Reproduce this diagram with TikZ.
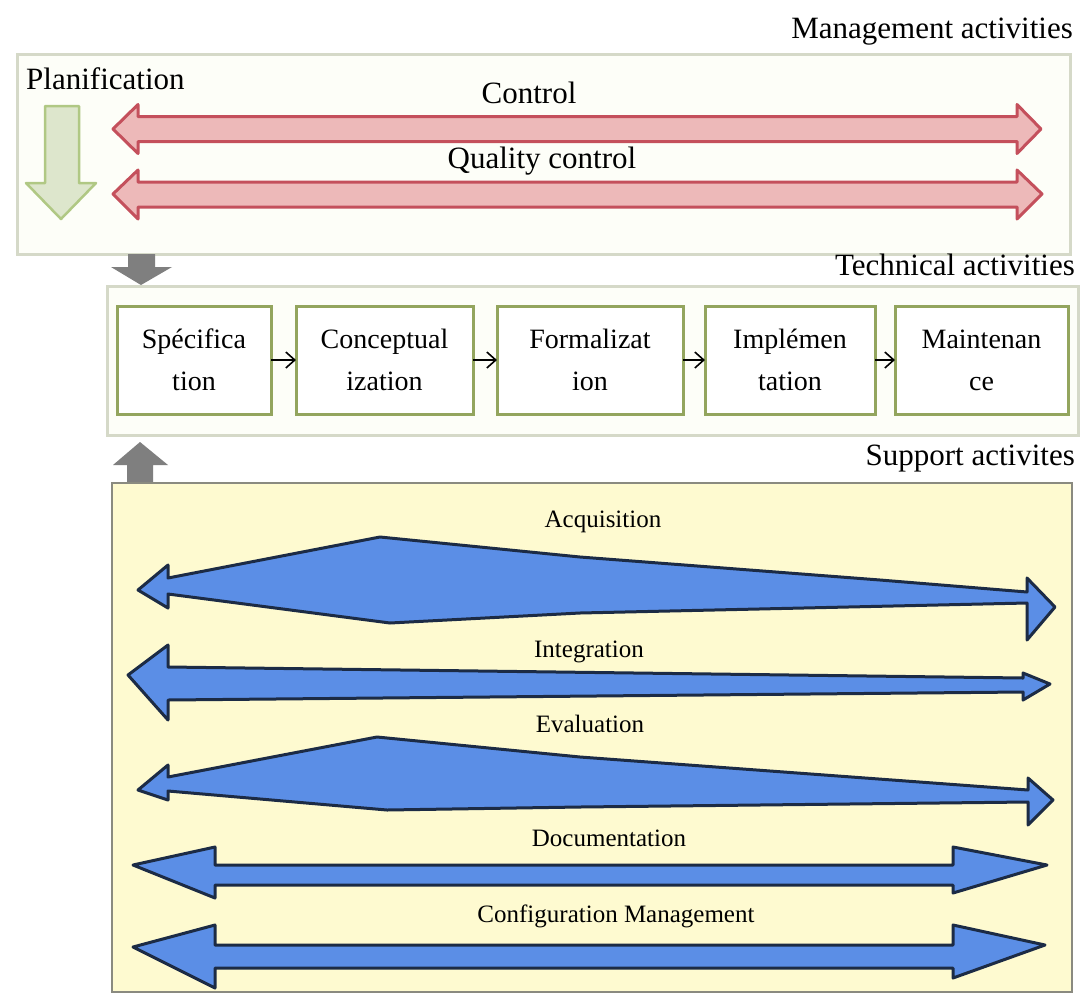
\documentclass[tikz,border=0pt]{standalone}
\usepackage{fontspec}
\setmainfont{Liberation Serif}
\usetikzlibrary{arrows.meta}
\definecolor{mgmtborder}{HTML}{D5D9C8}
\definecolor{boxfill}{HTML}{FDFEF8}
\definecolor{redfill}{HTML}{EDB9B9}
\definecolor{redline}{HTML}{C4505C}
\definecolor{greenfill}{HTML}{DDE6CC}
\definecolor{greenline}{HTML}{B0C884}
\definecolor{grayarrow}{HTML}{7F7F7F}
\definecolor{olive}{HTML}{93A55E}
\definecolor{supfill}{HTML}{FEFAD0}
\definecolor{supline}{HTML}{8A8A80}
\definecolor{bluefill}{HTML}{5B8EE6}
\definecolor{blueline}{HTML}{1C2B45}
\begin{document}
\begin{tikzpicture}[x=1pt,y=-1pt,
  biglabel/.style={font=\fontsize{31}{36}\selectfont, inner sep=0pt, anchor=base},
  suplabel/.style={font=\fontsize{25}{30}\selectfont, inner sep=0pt, anchor=base},
  techbox/.style={draw=olive, line width=3pt, fill=white, minimum height=108pt,
    align=center, inner sep=0pt, outer sep=0pt, font=\fontsize{28}{42}\selectfont},
  redarrow/.style={fill=redfill, draw=redline, line width=3pt, line join=round},
  bluearrow/.style={fill=bluefill, draw=blueline, line width=3pt, line join=round},
  grayblock/.style={fill=grayarrow},
  stepconn/.style={-{Straight Barb[length=9pt,width=16pt]}, line width=1.6pt, black}
]
\useasboundingbox (0,0) rectangle (1082,994);
\fill[white] (0,0) rectangle (1082,994);

% ---------------- Management activities ----------------
\node[biglabel, anchor=base east] (mgmtlab) at (1073,38) {Management activities};
\draw[draw=mgmtborder, fill=boxfill, line width=3pt] (17,54) rectangle (1070,254);
\node[biglabel, anchor=base west] (planlab) at (26,89) {Planification};
\node[biglabel] (ctrllab) at (529,103) {Control};
\node[biglabel] (qclab) at (542,168) {Quality control};

% planification arrow (down)
\path[fill=greenfill, draw=greenline, line width=2.5pt, line join=round]
  (45,106) -- (79,106) -- (79,183) -- (96,183) -- (61,219) -- (26,183) -- (45,183) -- cycle;

% control arrows
\path[redarrow] (113,129) -- (138,104.5) -- (138,116.5) -- (1017,116.5) -- (1017,104.5)
  -- (1041,129) -- (1017,153.5) -- (1017,141.5) -- (138,141.5) -- (138,153.5) -- cycle;
\path[redarrow] (113,194) -- (138,170) -- (138,182) -- (1017,182) -- (1017,170)
  -- (1042,194) -- (1017,219) -- (1017,207) -- (138,207) -- (138,219) -- cycle;

% gray arrow down
\path[grayblock] (128,254) -- (155,254) -- (155,267) -- (172,267) -- (141,285)
  -- (111,267) -- (128,267) -- cycle;

% ---------------- Technical activities ----------------
\node[biglabel, anchor=base east] (techlab) at (1075,275) {Technical activities};
\draw[draw=mgmtborder, fill=boxfill, line width=3pt] (107,286) rectangle (1078,435);
\node[techbox, minimum width=154pt] (spec) at (194,360) {Spécifica\\tion};
\node[techbox, minimum width=177pt] (conc) at (384.5,360) {Conceptual\\ization};
\node[techbox, minimum width=186pt] (form) at (590,360) {Formalizat\\ion};
\node[techbox, minimum width=170pt] (impl) at (790,360) {Implémen\\tation};
\node[techbox, minimum width=173pt] (maint) at (981.5,360) {Maintenan\\ce};
\draw[stepconn] (spec) -- (conc);
\draw[stepconn] (conc) -- (form);
\draw[stepconn] (form) -- (impl);
\draw[stepconn] (impl) -- (maint);

% gray arrow up
\path[grayblock] (127,483) -- (153,483) -- (153,465) -- (168,465) -- (140,442)
  -- (113,465) -- (127,465) -- cycle;

% ---------------- Support activities ----------------
\node[biglabel, anchor=base east] (suplab) at (1075,465) {Support activites};
\draw[draw=supline, fill=supfill, line width=2.5pt] (112,483) rectangle (1072,992);

\node[suplabel] (acqlab) at (603,527) {Acquisition};
\path[bluearrow] (138,590) -- (168,565) -- (168,578) -- (380,537) -- (580,557) -- (880,580)
  -- (1027,592) -- (1027,578) -- (1055,607) -- (1027,640) -- (1027,603) -- (580,613)
  -- (390,623) -- (168,594) -- (168,608) -- cycle;

\node[suplabel] (intlab) at (589,657) {Integration};
\path[bluearrow] (128,675) -- (168,645) -- (168,667) -- (1023,678) -- (1023,673)
  -- (1050,684) -- (1023,700) -- (1023,692) -- (168,700) -- (168,720) -- cycle;

\node[suplabel] (evallab) at (590,732) {Evaluation};
\path[bluearrow] (138,790) -- (168,765) -- (168,777) -- (377,737) -- (580,757)
  -- (1028,790) -- (1028,778) -- (1053,800) -- (1028,825) -- (1028,802) -- (580,807)
  -- (387,810) -- (168,791) -- (168,800) -- cycle;

\node[suplabel] (doclab) at (609,846) {Documentation};
\path[bluearrow] (133,865) -- (215,847) -- (215,865) -- (953,865) -- (953,847)
  -- (1047,865) -- (953,893) -- (953,885) -- (215,885) -- (215,898) -- cycle;

\node[suplabel] (cfglab) at (616,922) {Configuration Management};
\path[bluearrow] (133,947) -- (215,925) -- (215,945) -- (953,945) -- (953,925)
  -- (1045,945) -- (953,978) -- (953,968) -- (215,968) -- (215,988) -- cycle;
\end{tikzpicture}
\end{document}
